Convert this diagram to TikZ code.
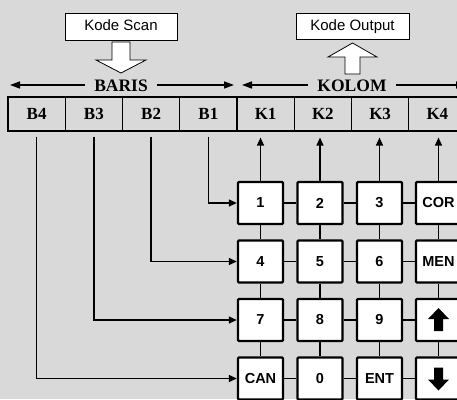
\documentclass[tikz,border=0pt]{standalone}
\usepackage{fontspec}
\setmainfont{Liberation Serif}
\newfontfamily\arialfont{Liberation Sans}
\usetikzlibrary{arrows.meta}
\definecolor{bg}{RGB}{217,217,217}
\tikzset{
  cell/.style={draw, line width=1.1pt, minimum width=57.25pt, minimum height=34pt, inner sep=0pt,
    font=\fontsize{17}{20}\selectfont\bfseries},
  labelbox/.style={draw, line width=0.9pt, fill=white, inner sep=0pt, text height=11pt, text depth=3pt,
    font=\arialfont\fontsize{15}{18}\selectfont},
  key/.style={draw, line width=2.4pt, fill=white, rounded corners=1pt, minimum width=45pt,
    minimum height=42pt, inner sep=0pt, font=\arialfont\bfseries\fontsize{14.5}{17}\selectfont},
  hollow/.style={draw, line width=0.8pt, fill=white},
  conn/.style={line width=1.4pt},
  tip/.style={-{Triangle[length=8pt,width=7pt]}},
  bigtips/.style={line width=1.4pt, {Triangle[length=10pt,width=7pt]}-{Triangle[length=10pt,width=7pt]}},
  headtext/.style={fill=bg, inner xsep=9pt, inner ysep=1pt, font=\fontsize{17.5}{20}\selectfont\bfseries},
  symarrow/.style={fill=black}
}
\begin{document}
\begin{tikzpicture}[x=1pt,y=-1pt]
\useasboundingbox (0,0) rectangle (457,399);
\clip (0,0) rectangle (457,399);
\fill[bg] (0,0) rectangle (457,399);

% label boxes
\node[labelbox, minimum width=112pt, minimum height=27pt] (scan) at (121,26.5) {Kode Scan};
\node[labelbox, minimum width=113pt, minimum height=26pt] (out) at (352.5,26) {Kode Output};

% hollow arrows
\draw[hollow] (112,42) -- (130,42) -- (130,60) -- (146,60) -- (121,73) -- (96,60) -- (112,60) -- cycle;
\draw[hollow] (345,74) -- (360,74) -- (360,57) -- (377,57) -- (352.5,43) -- (328,57) -- (345,57) -- cycle;

% direction arrows
\coordinate (bl) at (10,85);
\coordinate (br) at (234,85);
\coordinate (kl) at (242,85);
\coordinate (kr) at (466,85);
\draw[bigtips] (bl) -- (br);
\draw[bigtips] (kl) -- (kr);
\node[headtext] (baris) at (121,86) {BARIS};
\node[headtext] (kolom) at (352,86) {KOLOM};

% table cells
\foreach \n [count=\i from 0] in {B4,B3,B2,B1,K1,K2,K3,K4} {
  \node[cell] (\n) at ({8+57.25*(\i+0.5)},114) {\n};
}

% keys
\def\colx{{260.5,320,379.5,438.5}}
\def\rowy{{203,261.5,320,378.5}}
\foreach \lab/\r/\c in {1/0/0,2/0/1,3/0/2,COR/0/3,4/1/0,5/1/1,6/1/2,MEN/1/3,7/2/0,8/2/1,9/2/2,/2/3,CAN/3/0,0/3/1,ENT/3/2,/3/3} {
  \pgfmathsetmacro{\kx}{\colx[\c]}
  \pgfmathsetmacro{\ky}{\rowy[\r]}
  \node[key] (k\r\c) at (\kx,\ky) {\lab};
}

% up / down arrow symbols
\fill[symarrow, shift={(k23.center)}] (0,-12) -- (10.5,-1) -- (4.5,-1) -- (4.5,11) -- (-4.5,11) -- (-4.5,-1) -- (-10.5,-1) -- cycle;
\fill[symarrow, shift={(k33.center)}] (0,12) -- (10.5,1) -- (4.5,1) -- (4.5,-11) -- (-4.5,-11) -- (-4.5,1) -- (-10.5,1) -- cycle;

% horizontal links between keys
\foreach \r in {0,1,2,3} {
  \draw[conn] (k\r0.east) -- (k\r1.west);
  \draw[conn] (k\r1.east) -- (k\r2.west);
  \draw[conn] (k\r2.east) -- (k\r3.west);
}
% vertical links between keys
\foreach \c in {0,1,2,3} {
  \draw[conn] (k0\c.south) -- (k1\c.north);
  \draw[conn] (k1\c.south) -- (k2\c.north);
  \draw[conn] (k2\c.south) -- (k3\c.north);
}

% column arrows up to K cells
\foreach \c/\K in {0/K1,1/K2,2/K3,3/K4} {
  \coordinate (ct\c) at ([yshift=-6pt]k0\c.north |- \K.south);
  \draw[conn, tip] (k0\c.north) -- (ct\c);
}

% row arrows from B cells
\foreach \r/\B in {0/B1,1/B2,2/B3,3/B4} {
  \coordinate (bs\r) at ([yshift=-5pt]\B.south);
  \draw[conn, tip] (bs\r) |- (k\r0.west);
}
\end{tikzpicture}
\end{document}
